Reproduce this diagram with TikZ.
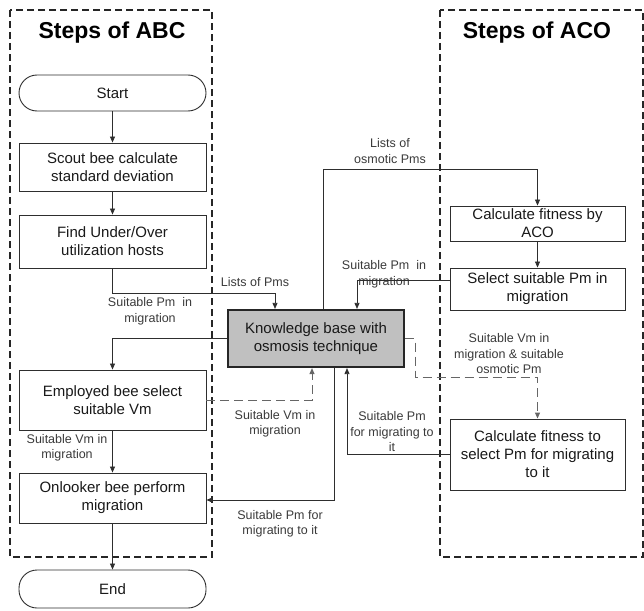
\documentclass[tikz,border=0pt]{standalone}
\usepackage{fontspec}
\setmainfont{Liberation Sans}
\usetikzlibrary{arrows.meta,calc}
\definecolor{linec}{HTML}{2E2E2E}
\definecolor{labc}{HTML}{3A3A3A}
\definecolor{kbfill}{HTML}{C0C0C0}
\begin{document}
\begin{tikzpicture}[x=1pt,y=-1pt,
  box/.style={draw=linec,line width=0.9pt,rectangle,inner sep=0pt,align=center,
     font=\fontsize{15}{18}\selectfont,text=black!90},
  term/.style={box,rounded corners=18pt},
  kbbox/.style={box,fill=kbfill,line width=2.2pt,draw=black!85},
  lab/.style={align=center,inner sep=0pt,text=labc,font=\fontsize{12.5}{15.5}\selectfont},
  ttl/.style={inner sep=0pt,font=\fontsize{23}{26}\selectfont\bfseries},
  frame/.style={draw=black!85,line width=1.3pt,dash pattern=on 7pt off 4pt},
  arr/.style={draw=linec,line width=0.8pt,-{Triangle[length=6pt,width=5pt]}},
  darr/.style={arr,draw=black!60,line width=1pt,dash pattern=on 9pt off 5pt}]
\useasboundingbox (0,0) rectangle (644,610);
% frames
\draw[frame] (10,10) rectangle (212,557);
\draw[frame] (440,10) rectangle (643,557);
\node[ttl] (t1) at (112,33) {Steps of ABC};
\node[ttl] (t2) at (537,33) {Steps of ACO};
% nodes
\node[term,minimum width=187pt,minimum height=36pt] (start) at (112.5,93) {Start};
\node[box,minimum width=187pt,minimum height=48pt] (scout) at (112.5,167) {Scout bee calculate\\standard deviation};
\node[box,minimum width=187pt,minimum height=53pt] (find) at (112.5,241.5) {Find Under/Over\\utilization hosts};
\node[kbbox,minimum width=176pt,minimum height=57pt] (kb) at (316,338.5) {Knowledge base with\\osmosis technique};
\node[box,minimum width=187pt,minimum height=60pt] (emp) at (112.5,400) {Employed bee select\\suitable Vm};
\node[box,minimum width=187pt,minimum height=50pt] (onl) at (112.5,498) {Onlooker bee perform\\migration};
\node[term,minimum width=187pt,minimum height=38pt] (end) at (112.5,589) {End};
\node[box,minimum width=175pt,minimum height=35pt] (calc) at (537.5,223.5) {Calculate fitness by\\ACO};
\node[box,minimum width=175pt,minimum height=42pt] (sel) at (537.5,289) {Select suitable Pm in\\migration};
\node[box,minimum width=175pt,minimum height=71pt] (calc2) at (537.5,454.5) {Calculate fitness to\\select Pm for migrating\\to it};
% labels
\node[lab] (l1) at (255,282) {Lists of Pms};
\node[lab] (l2) at (150,311.5) {Suitable Pm\ \ in\\migration};
\node[lab] (l3) at (67,448) {Suitable Vm in\\migration};
\node[lab] (l4) at (275,424) {Suitable Vm in\\migration};
\node[lab] (l5) at (280,524) {Suitable Pm for\\migrating to it};
\node[lab] (l6) at (390,151) {Lists of\\osmotic Pms};
\node[lab] (l7) at (384,274.5) {Suitable Pm\ \ in\\migration};
\node[lab] (l8) at (509,354) {Suitable Vm in\\migration \& suitable\\osmotic Pm};
\node[lab] (l9) at (392,432) {Suitable Pm\\for migrating to\\it};
% coordinates
\coordinate (a1) at (275,293);
\coordinate (d1) at (312,400);
\coordinate (k2) at (334,500);
\coordinate (k3) at (323,169);
\coordinate (s1) at (357,280);
\coordinate (d2) at (415,377);
\coordinate (c2) at (347,454.5);
% connectors
\draw[arr] (start) -- (scout);
\draw[arr] (scout) -- (find);
\draw[arr] (find.south) |- (a1) -- (a1 |- kb.north);
\draw[arr] (kb.west) -| (emp.north);
\draw[arr] (emp) -- (onl);
\draw[arr] (onl) -- (end);
\draw[darr] (emp.east) -- (d1) -- (d1 |- kb.south);
\draw[arr] (kb.south -| k2) -- (k2) -- (k2 -| onl.east);
\draw[arr] (kb.north -| k3) -- (k3) -| (calc.north);
\draw[arr] (calc) -- (sel);
\draw[arr] (s1 -| sel.west) -- (s1) -- (s1 |- kb.north);
\draw[darr] (kb.east) -| (d2) -| (calc2.north);
\draw[arr] (calc2.west) -- (c2) -- (c2 |- kb.south);
\end{tikzpicture}
\end{document}
